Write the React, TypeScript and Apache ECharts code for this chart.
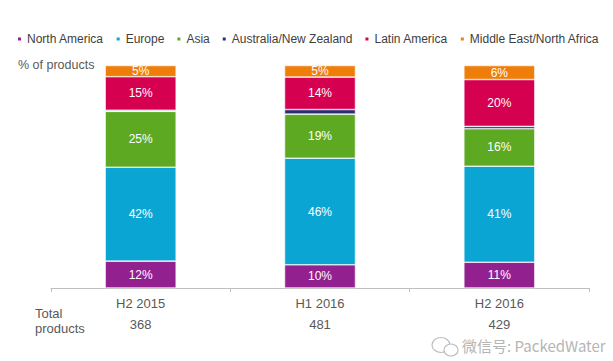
import React, { useEffect, useRef } from "react";
import * as echarts from "echarts";

const categories = ["H2 2015", "H1 2016", "H2 2016"];
const totals = [368, 481, 429];
const seriesNames = [
  "North America",
  "Europe",
  "Asia",
  "Australia/New Zealand",
  "Latin America",
  "Middle East/North Africa",
];
const northAmerica = [12, 10, 11];
const europe = [42, 46, 41];
const asia = [25, 19, 16];
const australiaNz = [0.5, 2, 1];
const latinAmerica = [15, 14, 20];
const middleEast = [5, 5, 6];
const colors = ["#93208F", "#0AA5D2", "#5DAA22", "#2B2F6E", "#D5004F", "#EE7D0A"];
const showLabels = [true, true, true, false, true, true];

const FONT = "'Liberation Sans', Arial, sans-serif";

export default function App() {
  const ref = useRef<HTMLDivElement>(null);
  useEffect(() => {
    if (!ref.current) return;
    const chart = echarts.init(ref.current, undefined, { renderer: "svg" });
    const all = [northAmerica, europe, asia, australiaNz, latinAmerica, middleEast];
    const barTotals = categories.map((_, i) => all.reduce((s, a) => s + a[i], 0));
    const series = all.map((arr, k) => ({
      name: seriesNames[k],
      type: "bar",
      stack: "share",
      barWidth: 71,
      data: arr.map((v, i) => ({ value: (v / barTotals[i]) * 100, raw: v })),
      itemStyle: { color: colors[k], borderColor: "#ffffff", borderWidth: 0.6 },
      label: {
        show: showLabels[k],
        position: "inside",
        color: "#ffffff",
        fontSize: 12,
        fontFamily: FONT,
        formatter: (p: any) => `${p.data.raw}%`,
      },
      emphasis: { disabled: true },
    }));
    chart.setOption({
      animation: false,
      textStyle: { fontFamily: FONT },
      color: colors,
      legend: {
        left: 16,
        top: 33,
        padding: 0,
        itemWidth: 5,
        itemHeight: 5,
        itemGap: 11,
        icon: "rect",
        data: seriesNames,
        textStyle: { fontSize: 12, color: "#404040", fontFamily: FONT },
        selectedMode: false,
      },
      grid: { left: 51, right: 24, top: 65.5, bottom: 73 },
      xAxis: {
        type: "category",
        data: categories,
        axisLine: { lineStyle: { color: "#bfbfbf", width: 1 } },
        axisTick: { show: true, length: 4, lineStyle: { color: "#bfbfbf" } },
        axisLabel: {
          interval: 0,
          margin: 5,
          formatter: (v: string, i: number) => `{c|${v}}\n{n|${totals[i]}}`,
          rich: {
            c: { fontSize: 13, lineHeight: 21, color: "#595959", fontFamily: FONT },
            n: { fontSize: 13, lineHeight: 21, color: "#595959", fontFamily: FONT },
          },
        },
      },
      yAxis: { type: "value", min: 0, max: 100, show: false },
      series,
      graphic: [
        {
          type: "text",
          left: 18,
          top: 58,
          style: { text: "% of products", fontSize: 12.5, fill: "#595959", fontFamily: FONT },
        },
        {
          type: "text",
          left: 35,
          top: 306,
          style: {
            text: "Total\nproducts",
            fontSize: 13,
            lineHeight: 15,
            fill: "#595959",
            fontFamily: FONT,
          },
        },
        {
          type: "ellipse",
          shape: { cx: 441, cy: 345, rx: 9, ry: 7.5 },
          style: { fill: "#ffffff", stroke: "#bdbdbd", lineWidth: 1.2 },
        },
        {
          type: "ellipse",
          shape: { cx: 451, cy: 350, rx: 7, ry: 6 },
          style: { fill: "#ffffff", stroke: "#bdbdbd", lineWidth: 1.2 },
        },
        {
          type: "text",
          left: 462,
          top: 338,
          style: {
            text: "微信号: PackedWater",
            fontSize: 15,
            fill: "#b5b5b5",
            fontFamily: "'Noto Sans CJK SC', 'Liberation Sans', sans-serif",
          },
        },
      ],
    });
    return () => chart.dispose();
  }, []);
  return <div ref={ref} style={{ width: 613, height: 361, position: "absolute", left: 0, top: 0 }} />;
}
